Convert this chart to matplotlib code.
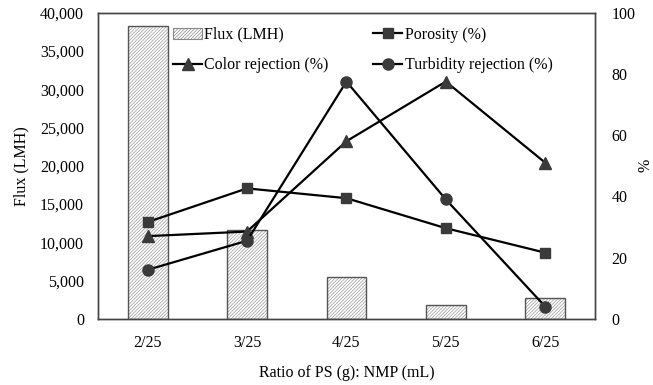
import numpy as np
import matplotlib
matplotlib.use("Agg")
import matplotlib.pyplot as plt
from matplotlib.patches import Patch

plt.rcParams['font.family'] = ['Liberation Serif', 'DejaVu Serif']
plt.rcParams['hatch.linewidth'] = 0.5

categories = ["2/25", "3/25", "4/25", "5/25", "6/25"]
flux = [38200, 11600, 5400, 1750, 2700]
porosity = [31.6, 42.6, 39.4, 29.6, 21.6]
color_rej = [27.0, 28.5, 58.0, 77.5, 51.0]
turbidity_rej = [16.0, 25.5, 77.5, 39.0, 4.0]

x = np.arange(len(categories))

fig = plt.figure(figsize=(6.53, 3.85), dpi=100)
ax = fig.add_axes([0.150, 0.172, 0.761, 0.795])
ax2 = ax.twinx()

# bars: hatch in light grey, outline darker
ax.bar(x, flux, width=0.4, color="white", edgecolor="#9a9a9a", hatch="//////////", linewidth=0, zorder=2)
ax.bar(x, flux, width=0.4, fill=False, edgecolor="#555555", linewidth=1.0, zorder=3)
flux_handle = Patch(facecolor="white", edgecolor="#888888", hatch="//////////", linewidth=0.8)

mk = dict(color="black", linewidth=1.6, markerfacecolor="#3a3a3a", markeredgecolor="#3a3a3a")
l1, = ax2.plot(x, porosity, marker="s", markersize=7, **mk)
l2, = ax2.plot(x, color_rej, marker="^", markersize=8, **mk)
l3, = ax2.plot(x, turbidity_rej, marker="o", markersize=8, **mk)

ax.set_xlim(-0.5, 4.5)
ax.set_ylim(0, 40000)
ax.set_yticks(np.arange(0, 40001, 5000))
ax.set_yticklabels([f"{v:,}" for v in range(0, 40001, 5000)])
ax2.set_ylim(0, 100)
ax2.set_yticks(np.arange(0, 101, 20))
ax.set_xticks(x)
ax.set_xticklabels(categories)

for a in (ax, ax2):
    a.tick_params(length=0, labelsize=11.5, pad=12)
    for s in a.spines.values():
        s.set_color("#444444")
        s.set_linewidth(1.0)
ax.tick_params(axis="y", pad=10)
ax2.tick_params(axis="y", pad=12)

ax.set_xlabel("Ratio of PS (g): NMP (mL)", fontsize=11.5, labelpad=10)
ax.set_ylabel("Flux (LMH)", fontsize=11.5, labelpad=8)
ax2.set_ylabel("%", fontsize=11.5)
ax2.yaxis.set_label_coords(1.085, 0.5)

ax2.legend([flux_handle, l2, l1, l3],
           ["Flux (LMH)", "Color rejection (%)", "Porosity (%)", "Turbidity rejection (%)"],
           ncol=2, frameon=False, fontsize=11.5, loc="upper left",
           bbox_to_anchor=(0.132, 0.985), handlelength=1.8, handletextpad=0.15,
           columnspacing=2.8, labelspacing=0.9, borderaxespad=0.2)

fig.savefig("out.png", dpi=100)
